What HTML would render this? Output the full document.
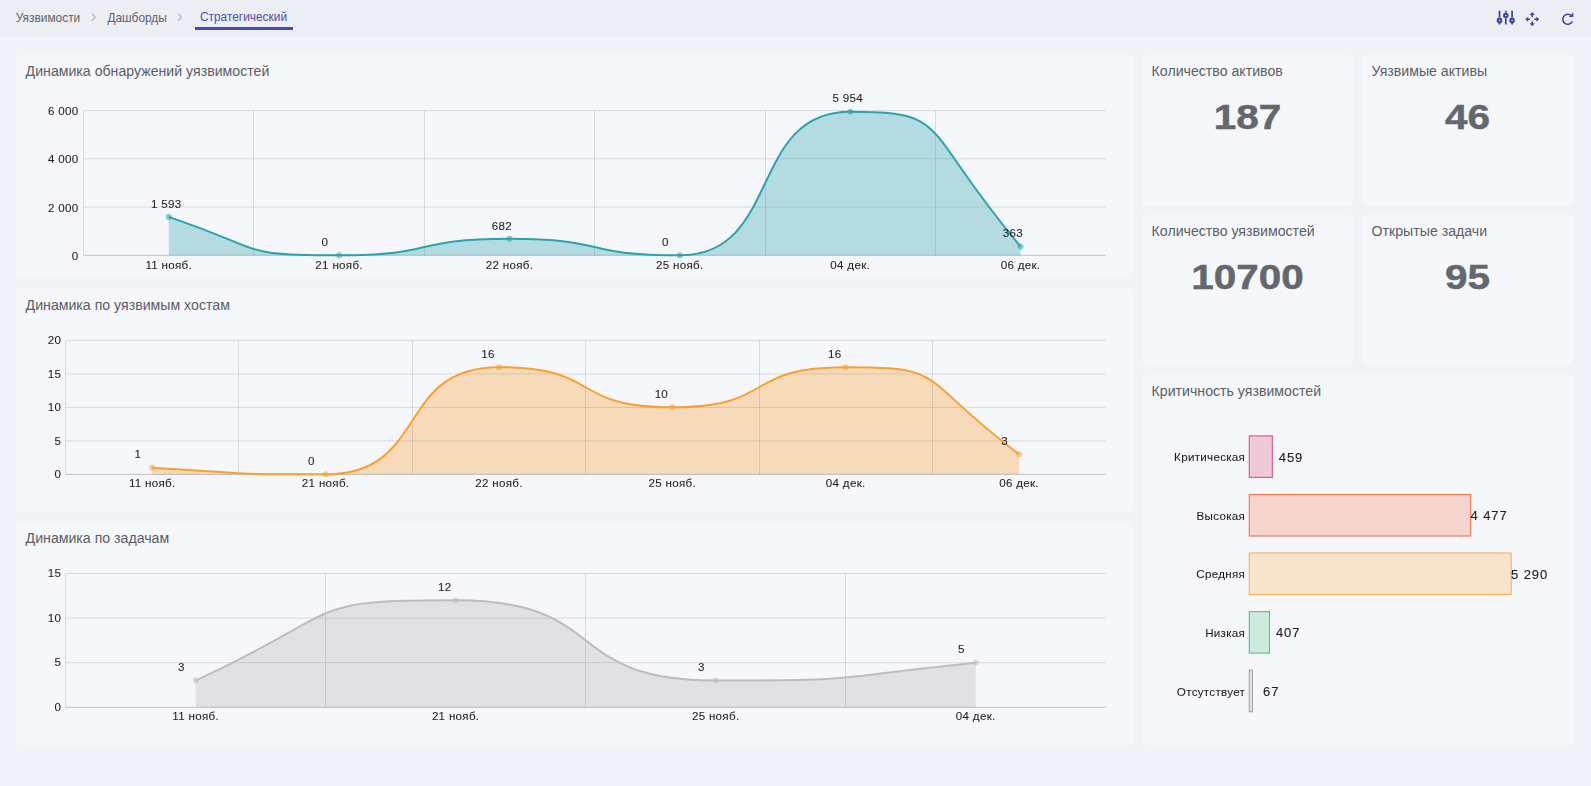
<!DOCTYPE html>
<html lang="ru"><head><meta charset="utf-8"><title>Стратегический</title>
<style>
html,body{margin:0;padding:0}
body{width:1591px;height:786px;overflow:hidden;position:relative;background:#f2f3f8;font-family:"Liberation Sans", sans-serif;color:#595d6e}
.hdr{position:absolute;left:0;top:0;width:1591px;height:37px;background:#edeef3}
.bc{position:absolute;top:10.7px;font-size:11.9px;line-height:14px;color:#606268;white-space:nowrap}
.bc.act{color:#4a4fb5}
.ul{position:absolute;left:195px;top:26.5px;width:98px;height:3px;background:#4549b4}
.sep{position:absolute;top:12px}
.card{position:absolute;background:#f6f7fb;border-radius:4px}
.ttl{position:absolute;font-size:14.15px;line-height:16px;color:#5b5d66;white-space:nowrap}
.big{position:absolute;font-weight:bold;font-size:35px;line-height:34px;color:#63686e;-webkit-text-stroke:0.5px #63686e;text-align:center;white-space:nowrap;transform:scaleX(1.155);transform-origin:50% 50%}
svg{position:absolute;left:0;top:0}
.tk{font-family:"Liberation Sans", sans-serif;font-size:11.6px;letter-spacing:.3px;fill:#1e1e1e;stroke:#1e1e1e;stroke-width:.08px}
.bv{font-family:"Liberation Sans", sans-serif;font-size:13px;letter-spacing:.9px;fill:#1e1e1e;stroke:#1e1e1e;stroke-width:.12px}
</style></head><body>
<div class="hdr"></div>
<div class="bc" style="left:15.8px">Уязвимости</div>
<div class="bc" style="left:107.4px">Дашборды</div>
<div class="bc act" style="left:199.9px;top:10px">Стратегический</div>
<div class="ul"></div>

<div class="card" style="left:16px;top:55px;width:1117px;height:224px"></div>
<div class="card" style="left:16px;top:288px;width:1117px;height:224px"></div>
<div class="card" style="left:16px;top:521px;width:1117px;height:224px"></div>
<div class="card" style="left:1142px;top:55px;width:211px;height:151px"></div>
<div class="card" style="left:1362px;top:55px;width:211px;height:151px"></div>
<div class="card" style="left:1142px;top:215px;width:211px;height:150px"></div>
<div class="card" style="left:1362px;top:215px;width:211px;height:150px"></div>
<div class="card" style="left:1142px;top:375px;width:431px;height:370px"></div>

<div class="ttl" style="left:25.6px;top:63px">Динамика обнаружений уязвимостей</div>
<div class="ttl" style="left:25.6px;top:296.5px">Динамика по уязвимым хостам</div>
<div class="ttl" style="left:25.6px;top:529.5px">Динамика по задачам</div>
<div class="ttl" style="left:1151.6px;top:63px">Количество активов</div>
<div class="ttl" style="left:1371.6px;top:63px">Уязвимые активы</div>
<div class="ttl" style="left:1151.6px;top:223px">Количество уязвимостей</div>
<div class="ttl" style="left:1371.6px;top:223px">Открытые задачи</div>
<div class="ttl" style="left:1151.6px;top:383px">Критичность уязвимостей</div>

<div class="big" style="left:1142px;width:211px;top:100px">187</div>
<div class="big" style="left:1362px;width:211px;top:100px">46</div>
<div class="big" style="left:1142px;width:211px;top:260px">10700</div>
<div class="big" style="left:1362px;width:211px;top:260px">95</div>

<svg width="1591" height="786" viewBox="0 0 1591 786" style="will-change:transform">
<!-- breadcrumb chevrons -->
<path d="M91.8,13.6l3.4,3.6l-3.4,3.6" fill="none" stroke="#b9bbc6" stroke-width="1.4"/>
<path d="M178,13.6l3.4,3.6l-3.4,3.6" fill="none" stroke="#b9bbc6" stroke-width="1.4"/>
<!-- ICONS -->
<g id="icons" fill="none" stroke="#3b45a8" stroke-width="1.75">
<path d="M1499.5,10.7V17.6M1499.5,23V24.4M1505.8,10.7V12.8M1505.8,18.3V24.4M1512.1,10.7V17.6M1512.1,23V24.4"/>
<g stroke-width="2.1"><circle cx="1499.5" cy="20.4" r="1.75"/><circle cx="1505.8" cy="15.5" r="1.75"/><circle cx="1512.1" cy="20.4" r="1.75"/></g>
<g stroke="none" fill="#3b45a8">
<path d="M1532.2,12.1l2.5,3h-1.7v1.9h-1.6v-1.9h-1.7z"/>
<path d="M1532.2,26.3l2.5,-3h-1.7v-1.9h-1.6v1.9h-1.7z"/>
<path d="M1525.2,19.2l3,-2.5v1.7h1.9v1.6h-1.9v1.7z"/>
<path d="M1539.3,19.2l-3,-2.5v1.7h-1.9v1.6h1.9v1.7z"/>
</g>
<path d="M1571.3,15.7A5,5 0 1 0 1572.4,21.3" stroke-width="1.55"/>
<path d="M1573.3,12.5V17H1568.8z" fill="#3b45a8" stroke="none"/>
</g>
<!-- chart 1 -->
<path d="M168.77,216.88C270.99,251.46 236.91,255.3 339.12,255.3C441.34,255.3 407.26,238.85 509.48,238.85C611.69,238.85 577.62,255.3 679.83,255.3C782.03,255.3 747.97,111.71 850.17,111.71C952.38,111.71 918.31,125.19 1020.52,246.55L1020.52,255.3L168.77,255.3Z" fill="rgba(43,163,173,0.32)" stroke="none"/>
<path d="M83.6,110.6H1105.7" stroke="rgba(70,74,90,0.16)" stroke-width="1"/>
<path d="M83.6,158.8H1105.7" stroke="rgba(70,74,90,0.16)" stroke-width="1"/>
<path d="M83.6,207H1105.7" stroke="rgba(70,74,90,0.16)" stroke-width="1"/>
<path d="M83.5,110.6V255.3" stroke="rgba(70,74,90,0.16)" stroke-width="1"/>
<path d="M253.5,110.6V255.3" stroke="rgba(70,74,90,0.16)" stroke-width="1"/>
<path d="M424.5,110.6V255.3" stroke="rgba(70,74,90,0.16)" stroke-width="1"/>
<path d="M594.5,110.6V255.3" stroke="rgba(70,74,90,0.16)" stroke-width="1"/>
<path d="M765.5,110.6V255.3" stroke="rgba(70,74,90,0.16)" stroke-width="1"/>
<path d="M935.5,110.6V255.3" stroke="rgba(70,74,90,0.16)" stroke-width="1"/>
<path d="M83.6,255.3H1105.7" stroke="rgba(60,62,72,0.30)" stroke-width="1"/>
<path d="M168.77,216.88C270.99,251.46 236.91,255.3 339.12,255.3C441.34,255.3 407.26,238.85 509.48,238.85C611.69,238.85 577.62,255.3 679.83,255.3C782.03,255.3 747.97,111.71 850.17,111.71C952.38,111.71 918.31,125.19 1020.52,246.55" fill="none" stroke="#2ba3ad" stroke-width="2" stroke-linejoin="round"/>
<circle cx="168.77" cy="216.88" r="3" fill="rgba(43,163,173,0.55)"/>
<circle cx="339.12" cy="255.3" r="3" fill="rgba(43,163,173,0.55)"/>
<circle cx="509.48" cy="238.85" r="3" fill="rgba(43,163,173,0.55)"/>
<circle cx="679.83" cy="255.3" r="3" fill="rgba(43,163,173,0.55)"/>
<circle cx="850.17" cy="111.71" r="3" fill="rgba(43,163,173,0.55)"/>
<circle cx="1020.52" cy="246.55" r="3" fill="rgba(43,163,173,0.55)"/>
<text x="78.6" y="115.2" text-anchor="end" class="tk">6 000</text>
<text x="78.6" y="163.4" text-anchor="end" class="tk">4 000</text>
<text x="78.6" y="211.6" text-anchor="end" class="tk">2 000</text>
<text x="78.6" y="259.9" text-anchor="end" class="tk">0</text>
<text x="168.77" y="268.8" text-anchor="middle" class="tk">11 нояб.</text>
<text x="339.12" y="268.8" text-anchor="middle" class="tk">21 нояб.</text>
<text x="509.48" y="268.8" text-anchor="middle" class="tk">22 нояб.</text>
<text x="679.83" y="268.8" text-anchor="middle" class="tk">25 нояб.</text>
<text x="850.17" y="268.8" text-anchor="middle" class="tk">04 дек.</text>
<text x="1020.52" y="268.8" text-anchor="middle" class="tk">06 дек.</text>
<text x="151.07" y="207.58" class="tk">1 593</text>
<text x="321.43" y="246" class="tk">0</text>
<text x="491.78" y="229.55" class="tk">682</text>
<text x="662.12" y="246" class="tk">0</text>
<text x="832.47" y="102.41" class="tk">5 954</text>
<text x="1002.82" y="237.25" class="tk">363</text>
<!-- chart 2 -->
<path d="M152.28,467.65C256.28,473.68 221.62,474.35 325.62,474.35C429.63,474.35 394.97,367.15 498.98,367.15C602.99,367.15 568.32,407.35 672.33,407.35C776.34,407.35 741.67,367.15 845.68,367.15C949.69,367.15 915.02,375.86 1019.03,454.25L1019.03,474.35L152.28,474.35Z" fill="rgba(249,160,46,0.32)" stroke="none"/>
<path d="M65.6,340.4H1105.7" stroke="rgba(70,74,90,0.16)" stroke-width="1"/>
<path d="M65.6,373.9H1105.7" stroke="rgba(70,74,90,0.16)" stroke-width="1"/>
<path d="M65.6,407.4H1105.7" stroke="rgba(70,74,90,0.16)" stroke-width="1"/>
<path d="M65.6,440.9H1105.7" stroke="rgba(70,74,90,0.16)" stroke-width="1"/>
<path d="M65.5,340.4V474.35" stroke="rgba(70,74,90,0.16)" stroke-width="1"/>
<path d="M238.5,340.4V474.35" stroke="rgba(70,74,90,0.16)" stroke-width="1"/>
<path d="M412.5,340.4V474.35" stroke="rgba(70,74,90,0.16)" stroke-width="1"/>
<path d="M585.5,340.4V474.35" stroke="rgba(70,74,90,0.16)" stroke-width="1"/>
<path d="M759.5,340.4V474.35" stroke="rgba(70,74,90,0.16)" stroke-width="1"/>
<path d="M932.5,340.4V474.35" stroke="rgba(70,74,90,0.16)" stroke-width="1"/>
<path d="M65.6,474.35H1105.7" stroke="rgba(60,62,72,0.30)" stroke-width="1"/>
<path d="M152.28,467.65C256.28,473.68 221.62,474.35 325.62,474.35C429.63,474.35 394.97,367.15 498.98,367.15C602.99,367.15 568.32,407.35 672.33,407.35C776.34,407.35 741.67,367.15 845.68,367.15C949.69,367.15 915.02,375.86 1019.03,454.25" fill="none" stroke="#f9a02e" stroke-width="2" stroke-linejoin="round"/>
<circle cx="152.28" cy="467.65" r="3" fill="rgba(249,160,46,0.55)"/>
<circle cx="325.62" cy="474.35" r="3" fill="rgba(249,160,46,0.55)"/>
<circle cx="498.98" cy="367.15" r="3" fill="rgba(249,160,46,0.55)"/>
<circle cx="672.33" cy="407.35" r="3" fill="rgba(249,160,46,0.55)"/>
<circle cx="845.68" cy="367.15" r="3" fill="rgba(249,160,46,0.55)"/>
<circle cx="1019.03" cy="454.25" r="3" fill="rgba(249,160,46,0.55)"/>
<text x="61.2" y="344.1" text-anchor="end" class="tk">20</text>
<text x="61.2" y="377.6" text-anchor="end" class="tk">15</text>
<text x="61.2" y="411.1" text-anchor="end" class="tk">10</text>
<text x="61.2" y="444.6" text-anchor="end" class="tk">5</text>
<text x="61.2" y="478.05" text-anchor="end" class="tk">0</text>
<text x="152.28" y="486.7" text-anchor="middle" class="tk">11 нояб.</text>
<text x="325.62" y="486.7" text-anchor="middle" class="tk">21 нояб.</text>
<text x="498.98" y="486.7" text-anchor="middle" class="tk">22 нояб.</text>
<text x="672.33" y="486.7" text-anchor="middle" class="tk">25 нояб.</text>
<text x="845.68" y="486.7" text-anchor="middle" class="tk">04 дек.</text>
<text x="1019.03" y="486.7" text-anchor="middle" class="tk">06 дек.</text>
<text x="134.58" y="458.35" class="tk">1</text>
<text x="307.93" y="465.05" class="tk">0</text>
<text x="481.28" y="357.85" class="tk">16</text>
<text x="654.63" y="398.05" class="tk">10</text>
<text x="827.98" y="357.85" class="tk">16</text>
<text x="1001.33" y="444.95" class="tk">3</text>
<!-- chart 3 -->
<path d="M195.61,680.54C351.63,608.29 299.62,600.26 455.64,600.26C611.65,600.26 559.65,680.54 715.66,680.54C871.68,680.54 819.67,678.76 975.69,662.7L975.69,707.3L195.61,707.3Z" fill="rgba(150,151,152,0.22)" stroke="none"/>
<path d="M65.6,573.5H1105.7" stroke="rgba(70,74,90,0.16)" stroke-width="1"/>
<path d="M65.6,618.1H1105.7" stroke="rgba(70,74,90,0.16)" stroke-width="1"/>
<path d="M65.6,662.7H1105.7" stroke="rgba(70,74,90,0.16)" stroke-width="1"/>
<path d="M65.5,573.5V707.3" stroke="rgba(70,74,90,0.16)" stroke-width="1"/>
<path d="M325.5,573.5V707.3" stroke="rgba(70,74,90,0.16)" stroke-width="1"/>
<path d="M585.5,573.5V707.3" stroke="rgba(70,74,90,0.16)" stroke-width="1"/>
<path d="M845.5,573.5V707.3" stroke="rgba(70,74,90,0.16)" stroke-width="1"/>
<path d="M65.6,707.3H1105.7" stroke="rgba(60,62,72,0.30)" stroke-width="1"/>
<path d="M195.61,680.54C351.63,608.29 299.62,600.26 455.64,600.26C611.65,600.26 559.65,680.54 715.66,680.54C871.68,680.54 819.67,678.76 975.69,662.7" fill="none" stroke="#bdbdbf" stroke-width="2" stroke-linejoin="round"/>
<circle cx="195.61" cy="680.54" r="3" fill="rgba(185,185,190,0.5)"/>
<circle cx="455.64" cy="600.26" r="3" fill="rgba(185,185,190,0.5)"/>
<circle cx="715.66" cy="680.54" r="3" fill="rgba(185,185,190,0.5)"/>
<circle cx="975.69" cy="662.7" r="3" fill="rgba(185,185,190,0.5)"/>
<text x="61.2" y="577.2" text-anchor="end" class="tk">15</text>
<text x="61.2" y="621.8" text-anchor="end" class="tk">10</text>
<text x="61.2" y="666.4" text-anchor="end" class="tk">5</text>
<text x="61.2" y="711" text-anchor="end" class="tk">0</text>
<text x="195.61" y="720.2" text-anchor="middle" class="tk">11 нояб.</text>
<text x="455.64" y="720.2" text-anchor="middle" class="tk">21 нояб.</text>
<text x="715.66" y="720.2" text-anchor="middle" class="tk">25 нояб.</text>
<text x="975.69" y="720.2" text-anchor="middle" class="tk">04 дек.</text>
<text x="177.91" y="671.24" class="tk">3</text>
<text x="437.94" y="590.96" class="tk">12</text>
<text x="697.96" y="671.24" class="tk">3</text>
<text x="957.99" y="653.4" class="tk">5</text>
<!-- bars -->
<rect x="1249.3" y="435.9" width="23" height="41.5" fill="rgba(226,87,126,0.28)" stroke="#e2577e" stroke-width="1.15"/>
<text x="1245.2" y="461.25" text-anchor="end" class="tk">Критическая</text>
<text x="1278.8" y="461.65" class="bv">459</text>
<rect x="1249.3" y="494.5" width="221.4" height="41.5" fill="rgba(249,116,79,0.26)" stroke="#f9744f" stroke-width="1.15"/>
<text x="1245.2" y="519.85" text-anchor="end" class="tk">Высокая</text>
<text x="1470.6" y="520.25" class="bv">4 477</text>
<rect x="1249.3" y="553" width="261.9" height="41.5" fill="rgba(251,180,84,0.28)" stroke="#fbb454" stroke-width="1.15"/>
<text x="1245.2" y="578.35" text-anchor="end" class="tk">Средняя</text>
<text x="1511" y="578.75" class="bv">5 290</text>
<rect x="1249.3" y="611.6" width="20.2" height="41.5" fill="rgba(98,200,145,0.27)" stroke="#52c68a" stroke-width="1.15"/>
<text x="1245.2" y="636.95" text-anchor="end" class="tk">Низкая</text>
<text x="1275.9" y="637.35" class="bv">407</text>
<rect x="1249.3" y="670.2" width="3.1" height="41.5" fill="rgba(174,176,182,0.22)" stroke="#a6a6aa" stroke-width="1.15"/>
<text x="1245.2" y="695.55" text-anchor="end" class="tk">Отсутствует</text>
<text x="1263" y="695.95" class="bv">67</text>
</svg>
</body></html>
